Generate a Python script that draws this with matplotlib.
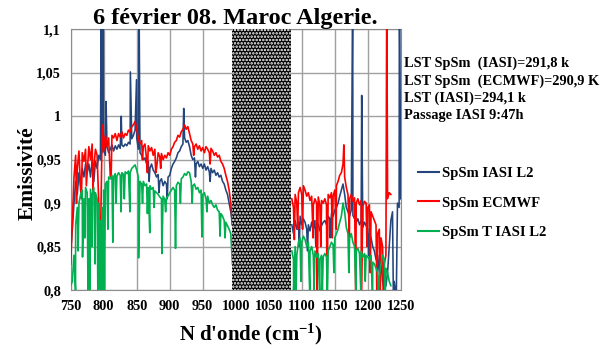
import numpy as np
import matplotlib
matplotlib.use('Agg')
import matplotlib.pyplot as plt

plt.rcParams['font.family'] = ['Liberation Serif', 'DejaVu Serif']
plt.rcParams['font.weight'] = 'bold'
plt.rcParams['mathtext.fontset'] = 'custom'
plt.rcParams['mathtext.rm'] = 'Liberation Serif:bold'
plt.rcParams['mathtext.default'] = 'rm'
plt.rcParams['hatch.linewidth'] = 1.2

# spectral sampling (cm-1), window on each side of the ozone band gap
wn_left = np.arange(750.0, 995.1, 2.5)
wn_right = np.arange(1085.0, 1250.1, 2.5)
gap = (995.0, 1083.0)

# --- SpSm IASI L2 ---
iasi_left = [
    0.845, 0.870, 0.900, 0.925, 0.910, 0.935, 0.920, 0.940, 0.930, 0.945,
    0.935, 0.945, 0.930, 0.950, 0.925, 0.948, 0.940, 0.955, 0.950, 0.958,
    0.960, 0.955, 0.965, 0.958, 0.962, 0.967, 0.960, 0.966, 0.962, 0.967,
    0.963, 0.967, 0.965, 0.968, 0.966, 0.970, 0.968, 0.974, 0.978, 0.984,
    0.975, 0.962, 0.958, 0.955, 0.950, 0.952, 0.945, 0.948, 0.940, 0.945,
    0.938, 0.935, 0.930, 0.933, 0.925, 0.928, 0.920, 0.925, 0.922, 0.930,
    0.932, 0.940, 0.945, 0.948, 0.952, 0.958, 0.960, 0.965, 0.968, 0.975,
    0.970, 0.972, 0.965, 0.955, 0.950, 0.952, 0.945, 0.948, 0.942, 0.945,
    0.940, 0.945, 0.938, 0.942, 0.936, 0.940, 0.935, 0.938, 0.932, 0.935,
    0.930, 0.932, 0.925, 0.922, 0.915, 0.910, 0.900, 0.890, 0.875,
]
iasi_right = [
    0.875, 0.865, 0.880, 0.870, 0.878, 0.885, 0.875, 0.882, 0.878, 0.870,
    0.875, 0.868, 0.878, 0.870, 0.880, 0.872, 0.876, 0.868, 0.874, 0.878,
    0.880, 0.875, 0.885, 0.882, 0.888, 0.885, 0.892, 0.895, 0.900, 0.908,
    0.915, 0.922, 0.910, 0.895, 0.890, 0.885, 0.892, 0.886, 0.882, 0.878,
    0.882, 0.875, 0.880, 0.872, 0.878, 0.874, 0.870, 0.865, 0.860, 0.850,
    0.845, 0.835, 0.840, 0.820, 0.830, 0.810, 0.800, 0.805, 0.820, 0.850,
    0.880, 0.890, 0.810, 0.795, 0.900, 0.895, 0.905,
]
iasi_feat_wn = [796.2, 799.3, 803.6, 826.6, 840.4, 849.7, 853.4, 868.8, 883.7,
                896.2, 921.2, 939.0, 961.2,
                1096.3, 1108.8, 1121.3, 1142.8, 1177.2, 1190.8, 1201.3,
                1238.8, 1243.2, 1247.9]
iasi_feat_val = [1.15, 1.15, 1.017, 1.000, 1.051, 1.042, 1.15, 0.925, 0.912,
                 0.905, 1.009, 0.930, 0.925,
                 0.850, 0.845, 0.850, 0.860, 1.15, 1.024, 0.840,
                 0.790, 0.790, 1.15]

# --- SpSm ECMWF ---
ecmwf_left = [
    0.830, 0.880, 0.930, 0.955, 0.940, 0.960, 0.915, 0.958, 0.948, 0.962,
    0.935, 0.965, 0.950, 0.968, 0.940, 0.962, 0.955, 0.900, 0.850, 0.975,
    0.960, 0.978, 0.965, 0.975, 0.930, 0.978, 0.975, 0.980, 0.972, 0.980,
    0.976, 0.982, 0.975, 0.980, 0.978, 0.984, 0.982, 0.988, 0.990, 0.994,
    0.985, 0.975, 0.968, 0.972, 0.965, 0.968, 0.950, 0.966, 0.960, 0.964,
    0.955, 0.962, 0.940, 0.958, 0.953, 0.957, 0.950, 0.955, 0.952, 0.958,
    0.955, 0.962, 0.965, 0.970, 0.972, 0.978, 0.976, 0.982, 0.985, 0.990,
    0.985, 0.988, 0.980, 0.972, 0.968, 0.965, 0.968, 0.962, 0.966, 0.960,
    0.964, 0.958, 0.965, 0.962, 0.958, 0.963, 0.960, 0.955, 0.958, 0.953,
    0.955, 0.948, 0.945, 0.940, 0.932, 0.925, 0.915, 0.900, 0.875,
]
ecmwf_right = [
    0.905, 0.895, 0.910, 0.900, 0.912, 0.918, 0.910, 0.920, 0.915, 0.908,
    0.912, 0.903, 0.908, 0.898, 0.905, 0.900, 0.907, 0.897, 0.903, 0.900,
    0.905, 0.898, 0.910, 0.906, 0.912, 0.908, 0.915, 0.920, 0.925, 0.932,
    0.935, 0.945, 0.930, 0.918, 0.910, 0.905, 0.910, 0.902, 0.906, 0.900,
    0.905, 0.898, 0.903, 0.896, 0.902, 0.900, 0.895, 0.898, 0.890, 0.885,
    0.880, 0.875, 0.865, 0.870, 0.860, 0.850, 0.830, 0.840, 0.905, 0.912,
    0.910, np.nan, np.nan, np.nan, np.nan, np.nan, np.nan,
]
ecmwf_feat_wn = [758.8, 766.3, 773.7, 783.8, 794.4, 798.8, 811.2, 858.7, 866.2,
                 878.8, 886.3, 936.3, 961.2,
                 1088.8, 1093.8, 1101.2, 1117.3, 1123.2, 1128.8, 1138.3, 1146.2,
                 1152.2, 1163.8, 1172.2, 1181.8, 1190.3, 1198.8, 1203.8,
                 1213.7, 1218.8, 1223.7, 1228.8]
ecmwf_feat_val = [0.900, 0.905, 0.920, 0.915, 0.805, 0.990, 0.928, 0.950, 0.935,
                  0.935, 0.940, 0.955, 0.945,
                  0.858, 0.870, 0.870, 0.860, 0.790, 0.850, 0.790, 0.860,
                  0.870, 0.967, 0.860, 0.790, 0.790, 0.850, 0.820,
                  0.800, 0.790, 0.790, 1.15]

# --- SpSm T IASI L2 ---
tiasi_left = [
    0.805, 0.810, 0.840, 0.875, 0.895, 0.900, 0.910, 0.915, 0.905, 0.918,
    0.912, 0.905, 0.916, 0.910, 0.918, 0.912, 0.905, 0.900, 0.880, 0.895,
    0.915, 0.922, 0.925, 0.930, 0.928, 0.932, 0.930, 0.934, 0.931, 0.935,
    0.932, 0.935, 0.933, 0.936, 0.934, 0.937, 0.935, 0.940, 0.942, 0.944,
    0.938, 0.930, 0.925, 0.922, 0.925, 0.920, 0.922, 0.918, 0.920, 0.916,
    0.918, 0.914, 0.912, 0.910, 0.907, 0.905, 0.908, 0.904, 0.906, 0.908,
    0.912, 0.915, 0.918, 0.915, 0.920, 0.924, 0.922, 0.928, 0.930, 0.934,
    0.932, 0.936, 0.935, 0.925, 0.920, 0.922, 0.916, 0.918, 0.912, 0.915,
    0.910, 0.912, 0.905, 0.908, 0.900, 0.903, 0.898, 0.895, 0.898, 0.892,
    0.890, 0.888, 0.885, 0.880, 0.878, 0.874, 0.870, 0.865, 0.830,
]
tiasi_right = [
    0.845, 0.835, 0.850, 0.840, 0.855, 0.860, 0.855, 0.862, 0.858, 0.850,
    0.855, 0.845, 0.850, 0.840, 0.845, 0.838, 0.842, 0.835, 0.840, 0.838,
    0.842, 0.838, 0.845, 0.850, 0.855, 0.852, 0.860, 0.865, 0.870, 0.878,
    0.885, 0.900, 0.890, 0.872, 0.865, 0.860, 0.865, 0.855, 0.850, 0.845,
    0.848, 0.842, 0.845, 0.838, 0.842, 0.840, 0.838, 0.835, 0.840, 0.832,
    0.830, 0.825, 0.820, 0.815, 0.830, 0.840, 0.835, 0.825, 0.820, 0.810,
    0.805, np.nan, np.nan, np.nan, np.nan, np.nan, np.nan,
]
tiasi_feat_wn = [757.3, 761.2, 767.9, 771.2, 776.3, 779.2, 782.4, 786.8, 791.2,
                 793.6, 796.2, 798.8, 801.2, 806.3, 813.8, 818.7, 826.3, 831.2,
                 839.7, 852.8, 858.8, 866.2, 869.8, 876.3, 888.1, 893.8, 908.8,
                 916.2, 934.1, 948.8, 956.3, 976.2, 983.8,
                 1087.7, 1091.2, 1098.7, 1112.3, 1118.8, 1127.3, 1131.2, 1138.8,
                 1148.7, 1171.3, 1182.3, 1189.8, 1196.2, 1207.3, 1216.2, 1226.3]
tiasi_feat_val = [0.800, 0.845, 0.838, 0.860, 0.790, 0.790, 0.850, 0.830, 0.790,
                  0.790, 0.790, 0.790, 0.790, 0.870, 0.855, 0.900, 0.890, 0.905,
                  0.890, 0.837, 0.900, 0.888, 0.866, 0.895, 0.842, 0.890, 0.848,
                  0.900, 0.900, 0.861, 0.890, 0.862, 0.860,
                  0.800, 0.790, 0.810, 0.790, 0.800, 0.790, 0.800, 0.790,
                  0.820, 0.820, 0.790, 0.790, 0.810, 0.790, 0.790, 0.790]

xticks = [750, 800, 850, 900, 950, 1000, 1050, 1100, 1150, 1200, 1250]
yticks = [0.8, 0.85, 0.9, 0.95, 1.0, 1.05, 1.1]
ytick_labels = ['0,8', '0,85', '0,9', '0,95', '1', '1,05', '1,1']

notes = ['LST SpSm  (IASI)=291,8 k',
         'LST SpSm  (ECMWF)=290,9 K',
         'LST (IASI)=294,1 k',
         'Passage IASI 9:47h']


def build(base_l, base_r, f_wn, f_val):
    # put the narrow spikes/dips between the regular samples, break at the gap
    f_wn = np.asarray(f_wn)
    f_val = np.asarray(f_val)
    parts_x, parts_y = [], []
    for wn, base in ((wn_left, base_l), (wn_right, base_r)):
        m = (f_wn >= wn[0]) & (f_wn <= wn[-1])
        x = np.concatenate([wn, f_wn[m]])
        y = np.concatenate([np.asarray(base, float), f_val[m]])
        o = np.argsort(x)
        parts_x.append(x[o])
        parts_y.append(y[o])
    x = np.concatenate([parts_x[0], [np.mean(gap)], parts_x[1]])
    y = np.concatenate([parts_y[0], [np.nan], parts_y[1]])
    return x, y


fig = plt.figure(figsize=(6.1, 3.49), dpi=100)
ax = fig.add_axes([0.1159, 0.169, 0.5411, 0.747])

x, y = build(iasi_left, iasi_right, iasi_feat_wn, iasi_feat_val)
ax.plot(x, y, color='#24457c', lw=1.15, label='SpSm IASI L2', zorder=3)
x, y = build(ecmwf_left, ecmwf_right, ecmwf_feat_wn, ecmwf_feat_val)
ax.plot(x, y, color='#ff0000', lw=1.2, label='SpSm ECMWF', zorder=3)
x, y = build(tiasi_left, tiasi_right, tiasi_feat_wn, tiasi_feat_val)
ax.plot(x, y, color='#00b050', lw=1.2, label='SpSm T IASI L2', zorder=3)

# masked band
ax.axvspan(gap[0], gap[1], facecolor='black', edgecolor='white', hatch='.....',
           lw=0, zorder=4)

ax.set_xlim(750, 1250)
ax.set_ylim(0.8, 1.1)
ax.set_xticks(xticks)
ax.set_yticks(yticks)
ax.set_yticklabels(ytick_labels)
ax.tick_params(length=0, labelsize=10.3, pad=7)
ax.grid(True, color='#a0a0a0', lw=1)
ax.set_axisbelow(True)
for s in ax.spines.values():
    s.set_color('#8c8c8c')

ax.set_title('6 février 08. Maroc Algerie.', fontsize=17.5, fontweight='bold', pad=3)
fig.text(28 / 610, 1 - 173 / 349, 'Emissivité', fontsize=15.5, fontweight='bold',
         rotation=90, ha='center', va='center')
fig.text(251 / 610, 1 - 334 / 349, "N d'onde (cm$^{-1}$)", fontsize=15,
         fontweight='bold', ha='center', va='center')

for i, t in enumerate(notes):
    fig.text(404 / 610, 1 - (63.5 + 17.3 * i) / 349, t, fontsize=10.4,
             fontweight='bold', ha='left', va='center')

leg = ax.legend(loc='upper left', bbox_to_anchor=(405 / 610, 1 - 154 / 349),
                bbox_transform=fig.transFigure, frameon=False, fontsize=10.5,
                labelspacing=1.1, handlelength=1.4, handletextpad=0.25)
for h in leg.get_lines():
    h.set_linewidth(1.5)

fig.savefig('out.png', dpi=100)
